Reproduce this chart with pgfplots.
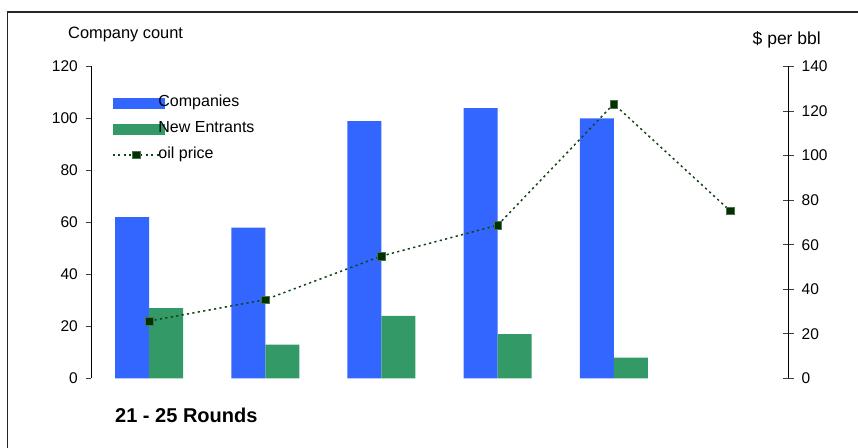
\documentclass[border=0pt]{standalone}
\usepackage{pgfplots}
\usepackage{pgfplotstable}
\pgfplotsset{compat=1.18}
\usepackage{fontspec}
\setmainfont{Liberation Sans}

\definecolor{compblue}{RGB}{51,102,255}
\definecolor{entgreen}{RGB}{51,153,102}
\definecolor{oilgreen}{RGB}{0,51,0}
\definecolor{oilline}{RGB}{15,70,25}

% company counts per funding-round group
\pgfplotstableread{
x companies entrants
0 62  27
1 58  13
2 99  24
3 104 17
4 100 8
}\bars

% average oil price, $ per bbl
\pgfplotstableread{
x oil
0 25.7
1 35.3
2 54.9
3 68.7
4 123.2
5 75.3
}\oil

\tikzset{
  oildash/.style={draw=oilline, line width=1.5bp, dash pattern=on 2.2bp off 3.3bp},
  oilmark/.style={mark=square*, mark size=3.8bp,
    mark options={solid, fill=oilgreen, draw=oilgreen!70!white, line width=0.4bp}},
}
\pgfplotsset{
  common/.style={
    at={(91bp,69.7bp)}, anchor=south west,
    scale only axis, width=697bp, height=311.8bp,
    xmin=-0.5, xmax=5.5, ymin=0,
    axis x line=none, clip=false,
    /pgf/number format/assume math mode=true,
    tick label style={font=\fontsize{15.5bp}{18bp}\selectfont, inner sep=0pt},
    axis line style={black, line width=1bp, -},
    tick style={black!75, line width=1bp},
  },
}

\begin{document}
\begin{tikzpicture}
\useasboundingbox (0,0) rectangle (858bp,448bp);
% chart frame
\draw[line width=1.3bp, black!85] (7.3bp,0bp) -- (7.3bp,436bp) -- (858bp,436bp);
% axis titles and group caption
\node[anchor=base west, inner sep=0pt, font=\fontsize{16.4bp}{19bp}\selectfont] at (68bp,409bp) {Company count};
\node[anchor=base east, inner sep=0pt, font=\fontsize{17.5bp}{20bp}\selectfont] at (821bp,403.5bp) {\$ per bbl};
\node[anchor=base west, inner sep=0pt, font=\bfseries\fontsize{20bp}{24bp}\selectfont] at (115bp,25.3bp) {21 - 25 Rounds};

\begin{axis}[common,
  ymax=120, ytick={0,20,...,120},
  axis y line*=left,
  tick align=outside, major tick length=5bp,
  yticklabel style={xshift=-8bp},
  ybar, bar width=34bp,
  legend cell align=left,
  legend style={draw=none, fill=none, inner sep=0pt, outer sep=0pt,
    at={(0.0301,0.9075)}, anchor=north west,
    row sep=11bp, column sep=-5.5bp,
    nodes={inner sep=0pt, text height=11.5bp, text depth=3.5bp,
      font=\fontsize{16bp}{19bp}\selectfont}},
]
\addplot[fill=compblue, draw=none, bar shift=-17bp, forget plot]
  table[x=x, y=companies]{\bars};
\addplot[fill=entgreen, draw=none, bar shift=17bp, forget plot]
  table[x=x, y=entrants]{\bars};
\addlegendimage{legend image code/.code={\fill[compblue] (0bp,-5bp) rectangle (51bp,5bp);}}
\addlegendimage{legend image code/.code={\fill[entgreen] (0bp,-5bp) rectangle (51bp,5bp);}}
% legend key for the oil series: dotted stroke with a square marker
\addlegendimage{legend image code/.code={%
    \draw[oildash] (0bp,0bp) -- (48bp,0bp);
    \filldraw[fill=oilgreen, draw=oilgreen!70!white, line width=0.4bp, solid]
      (19.7bp,-3.8bp) rectangle (27.3bp,3.8bp);}}
\legend{Companies, New Entrants, oil price}
\end{axis}

\begin{axis}[common,
  ymax=140, ytick={0,20,...,140},
  axis y line*=right,
  tick align=center, major tick length=11bp,
  yticklabel style={xshift=8bp},
]
\addplot[oildash, oilmark] table[x=x, y=oil]{\oil};
\end{axis}
\end{tikzpicture}
\end{document}
